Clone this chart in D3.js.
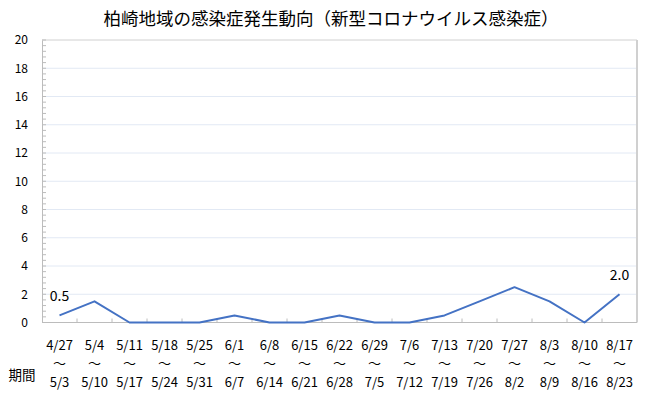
<!DOCTYPE html>
<html>
<head>
<meta charset="utf-8">
<script src="https://cdn.jsdelivr.net/npm/d3@7"></script>
<style>
  body { margin: 0; background: #fff; }
  text { font-family: "Noto Sans CJK JP", "Noto Sans", sans-serif; fill: #000; }
</style>
</head>
<body>
<div id="chart-area"></div>
<script>
// data
var startDates = ["4/27","5/4","5/11","5/18","5/25","6/1","6/8","6/15","6/22","6/29","7/6","7/13","7/20","7/27","8/3","8/10","8/17"];
var endDates   = ["5/3","5/10","5/17","5/24","5/31","6/7","6/14","6/21","6/28","7/5","7/12","7/19","7/26","8/2","8/9","8/16","8/23"];
var cases      = [0.5, 1.5, 0, 0, 0, 0.5, 0, 0, 0.5, 0, 0, 0.5, 1.5, 2.5, 1.5, 0, 2.0];
var yTicks     = [0, 2, 4, 6, 8, 10, 12, 14, 16, 18, 20];
var labelIdx   = [0, 16];   // points with a value label

var W = 650, H = 403;
var margin = { left: 42, right: 13, top: 40, bottom: 80.5 };
var width = W - margin.left - margin.right,
    height = H - margin.top - margin.bottom;

var svg = d3.select("#chart-area")
    .append("svg")
    .attr("width", W)
    .attr("height", H);

// title
svg.append("text")
    .attr("x", 331)
    .attr("y", 25)
    .attr("text-anchor", "middle")
    .attr("font-size", "17.5px")
    .text("柏崎地域の感染症発生動向（新型コロナウイルス感染症）");

var g = svg.append("g")
    .attr("transform", "translate(" + margin.left + "," + margin.top + ")");

// scales
var x = d3.scaleBand()
    .domain(startDates)
    .range([0, width]);

var y = d3.scaleLinear()
    .domain([0, 20])
    .range([height, 0]);

// grid lines
g.selectAll(".grid")
    .data(yTicks.filter(d => d > 0 && d < 20))
    .enter().append("line")
    .attr("x1", 0).attr("x2", width)
    .attr("y1", d => y(d)).attr("y2", d => y(d))
    .attr("stroke", "#e2e9f4")
    .attr("stroke-width", 1);

// frame: top and right
g.append("line")
    .attr("x1", 0).attr("x2", width)
    .attr("y1", 0).attr("y2", 0)
    .attr("stroke", "#d0d0d0");
g.append("line")
    .attr("x1", width).attr("x2", width)
    .attr("y1", 0).attr("y2", height)
    .attr("stroke", "#d0d0d0")
    .attr("stroke-width", 2);

// y axis
var yAxis = d3.axisLeft(y)
    .tickValues(yTicks)
    .tickSize(0)
    .tickPadding(14);
var yg = g.append("g").call(yAxis);
yg.select(".domain").attr("stroke", "#bcbcbc");
yg.selectAll("text")
    .attr("font-size", "12px")
    .style("font-family", "'Noto Sans CJK JP', sans-serif");

// minor ticks on y axis (inward)
g.selectAll(".ytick")
    .data(d3.range(0, 20.01, 0.4))
    .enter().append("line")
    .attr("x1", 0).attr("x2", 4)
    .attr("y1", d => y(d)).attr("y2", d => y(d))
    .attr("stroke", "#bcbcbc");

// x axis line
g.append("line")
    .attr("x1", 0).attr("x2", width)
    .attr("y1", height).attr("y2", height)
    .attr("stroke", "#bcbcbc");

// x ticks at band boundaries (inward)
g.selectAll(".xtick")
    .data(startDates.slice(1))
    .enter().append("line")
    .attr("x1", d => x(d)).attr("x2", d => x(d))
    .attr("y1", height).attr("y2", height - 4)
    .attr("stroke", "#bcbcbc");

// x labels: start ～ end
var cx = d => x(d) + x.bandwidth() / 2;
var lab = g.selectAll(".xlab")
    .data(startDates)
    .enter().append("g")
    .attr("transform", d => "translate(" + cx(d) + ",0)");
lab.append("text")
    .attr("y", height + 27)
    .attr("text-anchor", "middle")
    .attr("font-size", "13px")
    .text(d => d);
lab.append("text")
    .attr("y", height + 45)
    .attr("text-anchor", "middle")
    .attr("font-size", "13px")
    .text("～");
lab.append("text")
    .attr("y", height + 64)
    .attr("text-anchor", "middle")
    .attr("font-size", "13px")
    .text((d, i) => endDates[i]);

svg.append("text")
    .attr("x", 22)
    .attr("y", 380)
    .attr("text-anchor", "middle")
    .attr("font-size", "13.5px")
    .text("期間");

// line
var line = d3.line()
    .x((d, i) => cx(startDates[i]))
    .y(d => y(d));

g.append("path")
    .datum(cases)
    .attr("fill", "none")
    .attr("stroke", "#4472c4")
    .attr("stroke-width", 2)
    .attr("stroke-linejoin", "round")
    .attr("d", line);

// value labels
g.selectAll(".vlab")
    .data(labelIdx)
    .enter().append("text")
    .attr("x", i => cx(startDates[i]))
    .attr("y", i => y(cases[i]) - 14)
    .attr("text-anchor", "middle")
    .attr("font-size", "14px")
    .text(i => cases[i].toFixed(1));
</script>
</body>
</html>
